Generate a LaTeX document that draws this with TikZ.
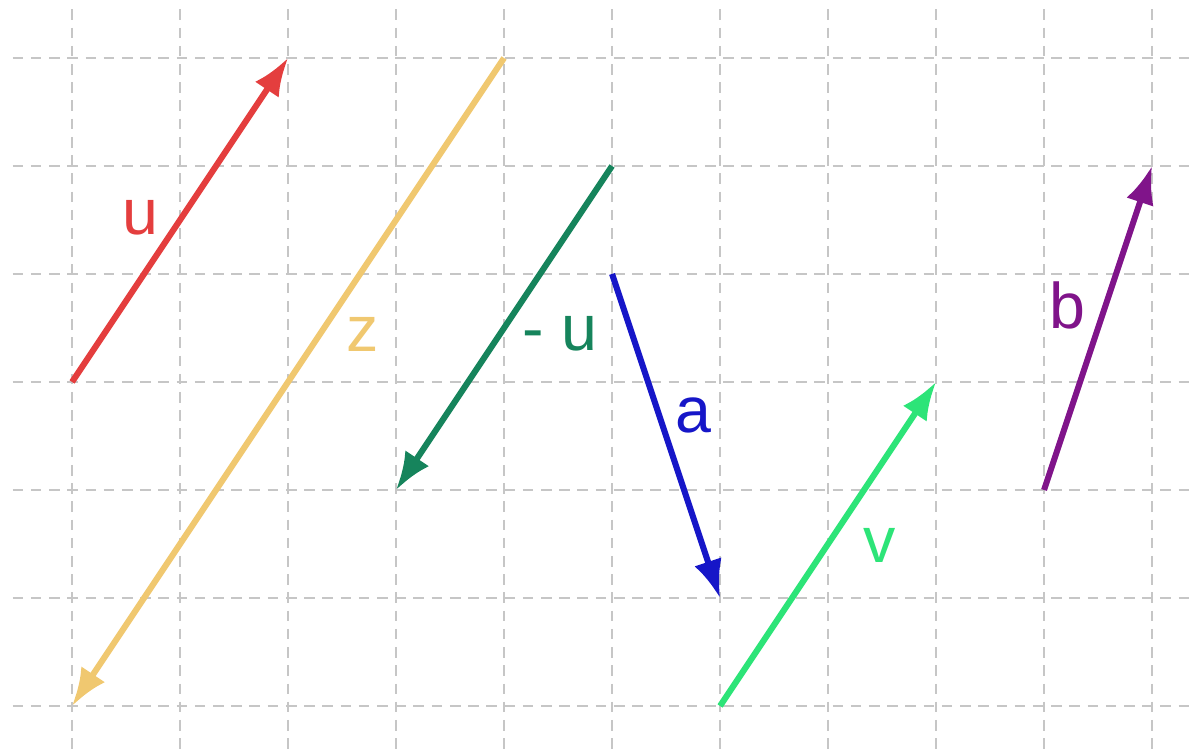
\documentclass[tikz,border=0pt]{standalone}
\usepackage{fontspec}
\setmainfont{Liberation Sans}
\usepackage{tikz}
\usetikzlibrary{arrows.meta, positioning, calc}

\definecolor{ured}{RGB}{228,62,62}
\definecolor{zyellow}{RGB}{240,200,112}
\definecolor{mugreen}{RGB}{22,132,92}
\definecolor{ablue}{RGB}{22,22,200}
\definecolor{vgreen}{RGB}{45,228,120}
\definecolor{bpurple}{RGB}{128,20,138}

\tikzset{
    gridline/.style={gray!45, line width=0.55pt, dash pattern=on 2.8pt off 2pt},
    vec/.style={line width=1.6pt, -{Latex[length=10pt,width=7.5pt]}},
    lbl/.style={font=\fontsize{17}{19}\selectfont, inner sep=0pt}
}

\begin{document}
\begin{tikzpicture}[x=1cm, y=1cm]
        \useasboundingbox (-0.667,-0.398) rectangle (10.37,6.537);
        % Grid
        \foreach \i in {0,...,6} {
            \draw[gridline] (-0.55,\i) -- (10.37,\i);
        }
        \foreach \j in {0,...,10} {
            \draw[gridline] (\j,6.45) -- (\j,-0.398);
        }

        % End points of the vectors
        \coordinate (u0) at (0,3);  \coordinate (u1) at (2,6);
        \coordinate (z0) at (4,6);  \coordinate (z1) at (0,0);
        \coordinate (m0) at (5,5);  \coordinate (m1) at (3,2);
        \coordinate (a0) at (5,4);  \coordinate (a1) at (6,1);
        \coordinate (v0) at (6,0);  \coordinate (v1) at (8,3);
        \coordinate (b0) at (9,2);  \coordinate (b1) at (10,5);

        \draw[vec, zyellow] (z0) -- (z1);
        \draw[vec, ured] (u0) -- (u1);
        \draw[vec, mugreen] (m0) -- (m1);
        \draw[vec, ablue] (a0) -- (a1);
        \draw[vec, vgreen] (v0) -- (v1);
        \draw[vec, bpurple] (b0) -- (b1);

        % Labels
        \node[lbl, text=ured] (ulbl) at (0.63,4.52) {u};
        \node[lbl, text=zyellow] (zlbl) at (2.69,3.44) {z};
        \node[lbl, text=mugreen] (mlbl) at (4.52,3.45) {- u};
        \node[lbl, text=ablue] (albl) at (5.75,2.69) {a};
        \node[lbl, text=vgreen] (vlbl) at (7.48,1.49) {v};
        \node[lbl, text=bpurple] (blbl) at (9.22,3.71) {b};
    \end{tikzpicture}
\end{document}
